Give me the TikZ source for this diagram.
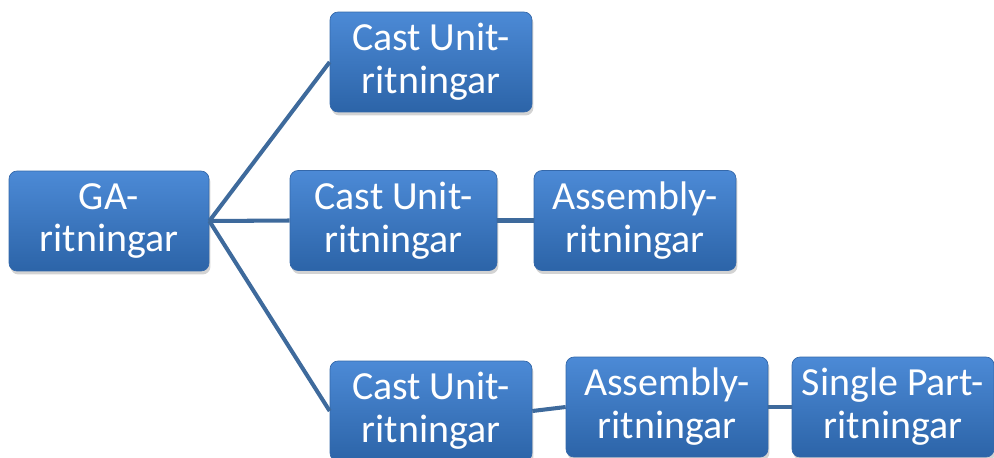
\documentclass[tikz,border=0pt]{standalone}
\usepackage{fontspec}
\setmainfont{Carlito}
\usetikzlibrary{shadows}
\definecolor{boxtop}{RGB}{76,138,214}
\definecolor{boxbottom}{RGB}{44,100,168}
\definecolor{boxedge}{RGB}{52,104,170}
\definecolor{linkblue}{RGB}{62,106,156}
\begin{document}
\begin{tikzpicture}[x=0.02cm,y=-0.02cm]

    \tikzset{
      drawing/.style={
        rounded corners=0.16cm,
        draw=boxedge,
        line width=0.4pt,
        top color=boxtop,
        bottom color=boxbottom,
        drop shadow={opacity=0.35,shadow xshift=0.03cm,shadow yshift=-0.07cm},
        text=white,
        align=center,
        inner sep=1pt,
        minimum width=4.04cm,
        minimum height=2cm,
        font=\fontsize{22.7}{24.4}\selectfont,
      },
      link/.style={
        draw=linkblue,
        line width=2.3pt,
      },
    }
    \useasboundingbox (0,0) rectangle (994,457);
    \clip (0,0) rectangle (994,457);
	\node[drawing,minimum width=4cm] (ga) at (109,221) {GA-\\ritningar};
	\node[drawing] (castA) at (431,62) {Cast Unit-\\ritningar};
	\node[drawing,minimum width=4.14cm] (castB) at (393.5,220.5) {Cast Unit-\\ritningar};
	\node[drawing] (asmB) at (635,220.5) {Assembly-\\ritningar};
	\node[drawing] (castC) at (431,411) {Cast Unit-\\ritningar};
	\node[drawing] (asmC) at (667,407) {Assembly-\\ritningar};
	\node[drawing] (single) at (893,407) {Single Part-\\ritningar};

	\draw[link] (ga.east)--(castA.west);
	\draw[link] (ga.east)--(castB.west);
	\draw[link] (ga.east)--(castC.west);
	\draw[link] (castB.east)--(asmB.west);
	\draw[link] (castC.east)--(asmC.west);
	\draw[link] (asmC.east)--(single.west);

\end{tikzpicture}
\end{document}
